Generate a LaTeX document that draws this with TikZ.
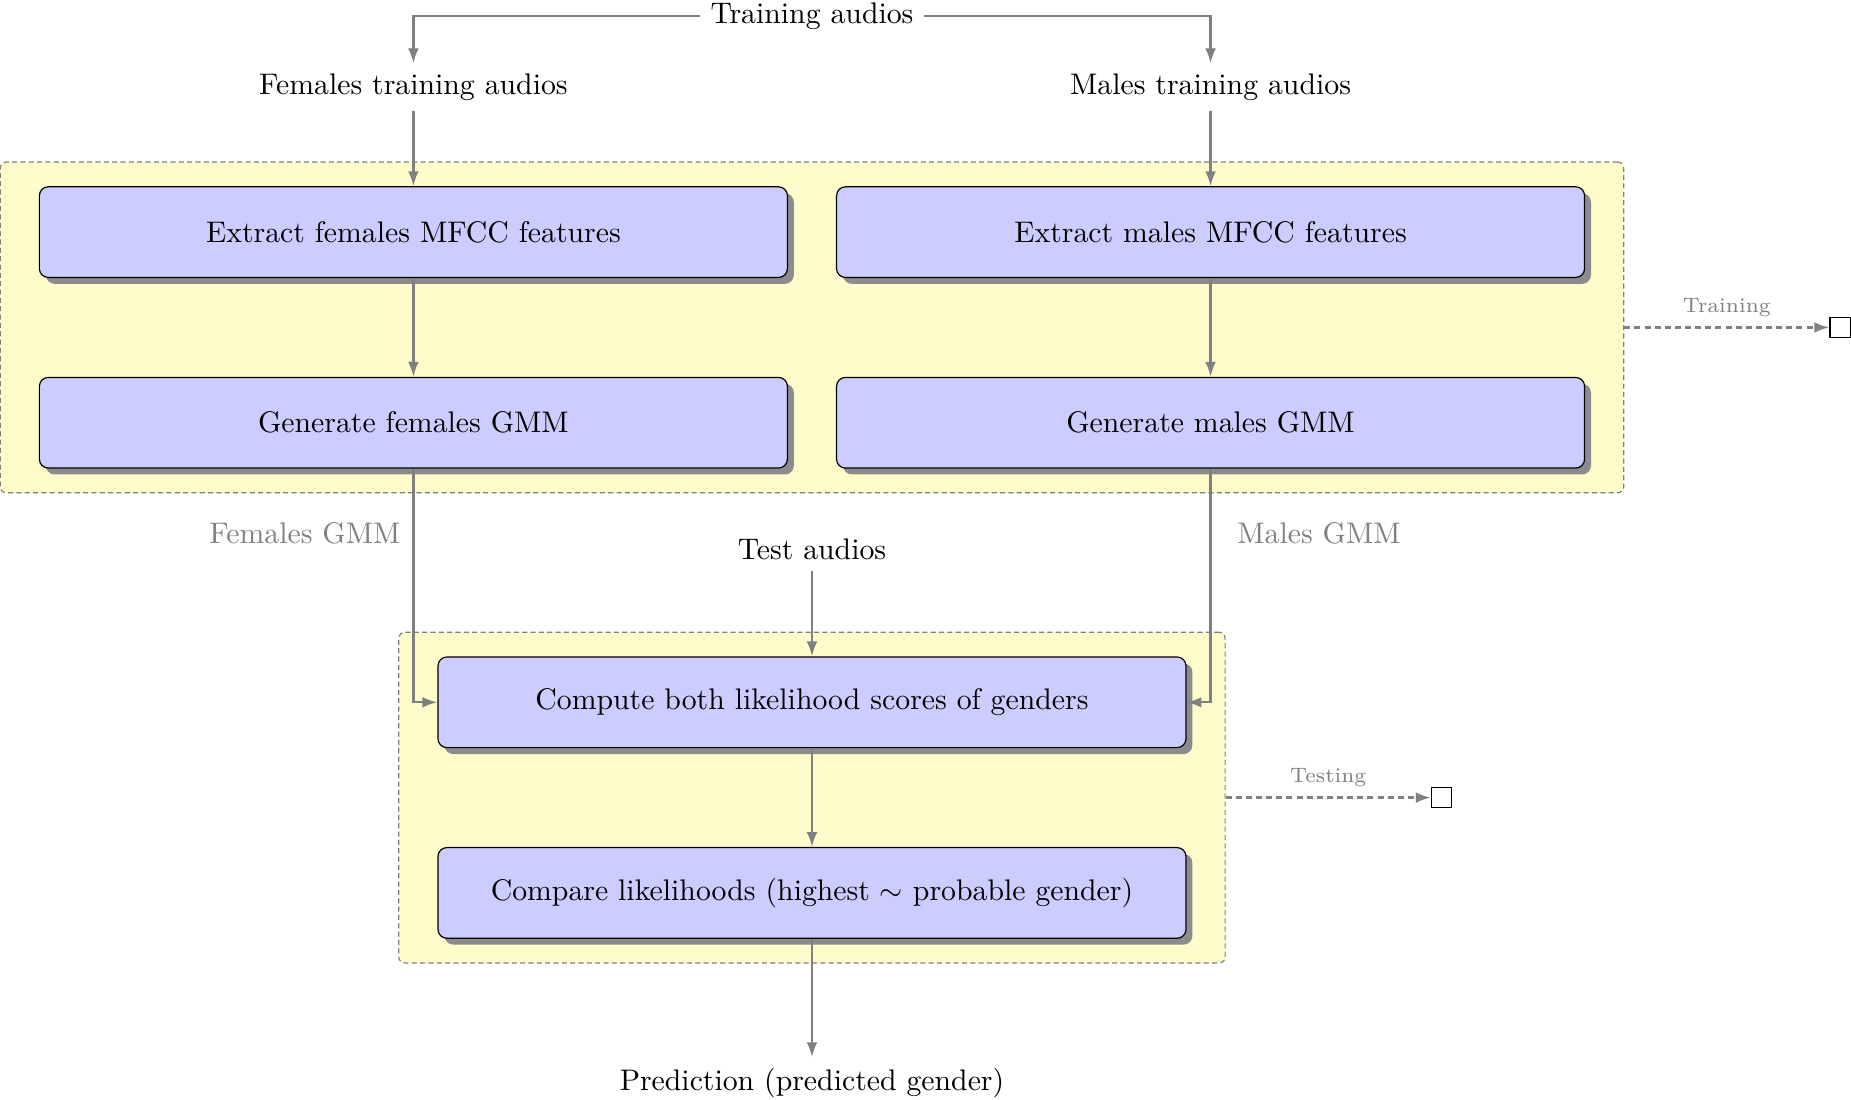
\documentclass[tikz,border=0pt]{standalone}
\usetikzlibrary{positioning,fit,shadows,arrows.meta,backgrounds}

\tikzset{
  procbox/.style={draw=black, fill=blue!20, rounded corners=3pt,
    minimum width=8.83cm, minimum height=1.07cm,
    drop shadow={fill=black!45,opacity=1}},
  phase/.style={draw=gray, fill=yellow!20, dash pattern=on 1.7pt off 1.1pt,
    rounded corners=2pt, inner xsep=0.455cm, inner ysep=0.285cm},
  flow/.style={->, gray, thick},
  phaseflow/.style={flow, dash pattern=on 2pt off 1.4pt},
  endbox/.style={draw=black, minimum size=0.24cm, inner sep=0pt},
  gmmlbl/.style={text=gray},
  phaselbl/.style={text=gray, font=\scriptsize},
}

\begin{document}
\begin{tikzpicture}[>={Latex[length=5pt,width=3.6pt]}]
\useasboundingbox (0,0) rectangle (21.85,-12.975);

% inputs
\node (train) at (9.585,-0.19) {Training audios};
\node (ftrain) at (4.88,-1.03) {Females training audios};
\node (mtrain) at (14.29,-1.03) {Males training audios};

% training phase
\node[procbox] (fext) at (4.88,-2.74) {Extract females MFCC features};
\node[procbox] (mext) at (14.29,-2.74) {Extract males MFCC features};
\node[procbox] (fgen) at (4.88,-4.99) {Generate females GMM};
\node[procbox] (mgen) at (14.29,-4.99) {Generate males GMM};

% testing phase
\node (test) at (9.585,-6.49) {Test audios};
\node[procbox] (comp) at (9.585,-8.29) {Compute both likelihood scores of genders};
\node[procbox] (cmpr) at (9.585,-10.54) {Compare likelihoods (highest $\sim$ probable gender)};
\node (pred) at (9.585,-12.78) {Prediction (predicted gender)};

\node[gmmlbl] (fgmm) at (3.60,-6.29) {Females GMM};
\node[gmmlbl] (mgmm) at (15.57,-6.29) {Males GMM};

\begin{pgfonlayer}{background}
\node[phase, fit=(fext)(mgen)] (trainbg) {};
\node[phase, fit=(comp)(cmpr)] (testbg) {};
\end{pgfonlayer}

\node[endbox, right=2.42cm of trainbg] (trainend) {};
\node[endbox, right=2.42cm of testbg] (testend) {};

% connectors
\draw[flow] (train.west) -| (ftrain.north);
\draw[flow] (train.east) -| (mtrain.north);
\draw[flow] (ftrain) -- (fext);
\draw[flow] (mtrain) -- (mext);
\draw[flow] (fext) -- (fgen);
\draw[flow] (mext) -- (mgen);
\draw[flow] (fgen.south) |- (comp.west);
\draw[flow] (mgen.south) |- (comp.east);
\draw[flow] (test) -- (comp);
\draw[flow] (comp) -- (cmpr);
\draw[flow] (cmpr) -- (pred);

\draw[phaseflow] (trainbg) -- (trainend)
  node[midway,above,phaselbl] (trainlbl) {Training};
\draw[phaseflow] (testbg) -- (testend)
  node[midway,above,phaselbl] (testlbl) {Testing};
\end{tikzpicture}
\end{document}
